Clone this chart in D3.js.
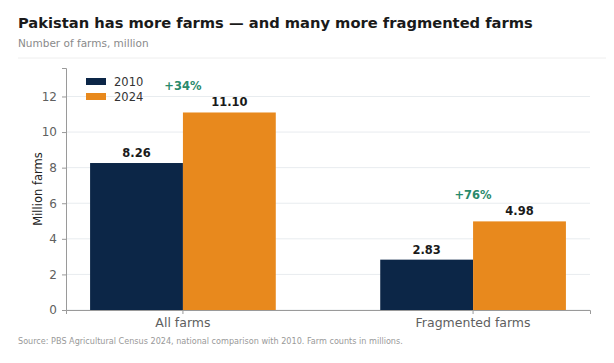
<!DOCTYPE html>
<html>
<head>
<meta charset="utf-8">
<script src="https://cdn.jsdelivr.net/npm/d3@7"></script>
<style>
  body { margin: 0; background: #fff; }
  svg { font-family: "DejaVu Sans", sans-serif; }
</style>
</head>
<body>
<svg id="chart" width="614" height="363"></svg>
<script>
// data
const categories = ["All farms", "Fragmented farms"];
const years = ["2010", "2024"];
const values2010 = [8.26, 2.83];
const values2024 = [11.10, 4.98];
const changeLabels = ["+34%", "+76%"];
const yTicks = [0, 2, 4, 6, 8, 10, 12];

const colors = {"2010": "#0c2647", "2024": "#e8891d"};

const svg = d3.select("#chart");
const margin = {top: 68, right: 24, bottom: 53, left: 66};
const width = 614 - margin.left - margin.right,
      height = 363 - margin.top - margin.bottom;

// title + subtitle
svg.append("text")
    .attr("x", 18).attr("y", 28)
    .style("font-size", "14.7px").style("font-weight", "bold").style("fill", "#1a1a1a")
    .text("Pakistan has more farms \u2014 and many more fragmented farms");
svg.append("text")
    .attr("x", 18).attr("y", 47)
    .style("font-size", "10.5px").style("fill", "#8a8a8a")
    .text("Number of farms, million");
svg.append("line")
    .attr("x1", 18).attr("x2", 606).attr("y1", 58).attr("y2", 58)
    .style("stroke", "#eeeeee").style("stroke-width", 1);

const g = svg.append("g").attr("transform", "translate(" + margin.left + "," + margin.top + ")");

// scales
const x = d3.scaleBand().domain(categories).range([0, width]).paddingInner(0.36).paddingOuter(0.083);
const xSub = d3.scaleBand().domain(years).range([0, x.bandwidth()]);
const y = d3.scaleLinear().domain([0, 13.6]).range([height, 0]);

// gridlines
g.selectAll(".grid").data(yTicks).enter().append("line")
    .attr("x1", 0).attr("x2", width)
    .attr("y1", d => y(d)).attr("y2", d => y(d))
    .style("stroke", "#e8ecef").style("stroke-width", 1);

// y axis
const yAxis = g.append("g")
    .call(d3.axisLeft(y).tickValues(yTicks).tickSize(4).tickPadding(5));
yAxis.select(".domain").style("stroke", "#9a9a9a");
yAxis.selectAll(".tick line").style("stroke", "#9a9a9a");
yAxis.selectAll("text").style("font-size", "12px").style("fill", "#606060").style("font-family", "DejaVu Sans, sans-serif");

// bars
const rows = categories.map((c, i) => ({cat: c, vals: [
    {year: "2010", v: values2010[i]}, {year: "2024", v: values2024[i]}]}));

const groups = g.selectAll(".grp").data(rows).enter().append("g")
    .attr("transform", d => "translate(" + x(d.cat) + ",0)");

groups.selectAll("rect").data(d => d.vals).enter().append("rect")
    .attr("x", d => xSub(d.year))
    .attr("y", d => y(d.v))
    .attr("width", xSub.bandwidth())
    .attr("height", d => height - y(d.v))
    .style("fill", d => colors[d.year]);

groups.selectAll(".val").data(d => d.vals).enter().append("text")
    .attr("x", d => xSub(d.year) + xSub.bandwidth() / 2)
    .attr("y", d => y(d.v) - 6)
    .attr("text-anchor", "middle")
    .style("font-size", "11.5px").style("font-weight", "bold").style("fill", "#1a1a1a")
    .text(d => d.v.toFixed(2));

// change labels
groups.append("text")
    .attr("x", x.bandwidth() / 2)
    .attr("y", (d, i) => y(values2024[i]) - 22)
    .attr("text-anchor", "middle")
    .style("font-size", "11.5px").style("font-weight", "bold").style("fill", "#2a8a6c")
    .text((d, i) => changeLabels[i]);

// x axis
const xAxis = g.append("g")
    .attr("transform", "translate(0," + height + ")")
    .call(d3.axisBottom(x).tickSize(4).tickPadding(4));
xAxis.select(".domain").style("stroke", "#9a9a9a");
xAxis.selectAll(".tick line").style("stroke", "#9a9a9a");
xAxis.selectAll("text").style("font-size", "12.5px").style("fill", "#606060").style("font-family", "DejaVu Sans, sans-serif");

// y label
g.append("text")
    .attr("transform", "translate(-24," + (height / 2) + ") rotate(-90)")
    .attr("text-anchor", "middle")
    .style("font-size", "11.5px").style("fill", "#222")
    .text("Million farms");

// legend
const legend = g.selectAll(".leg").data(years).enter().append("g")
    .attr("transform", (d, i) => "translate(20," + (10 + i * 15) + ")");
legend.append("rect").attr("width", 20).attr("height", 7).style("fill", d => colors[d]);
legend.append("text").attr("x", 28).attr("y", 8)
    .style("font-size", "11.5px").style("fill", "#333").text(d => d);

// source
svg.append("text")
    .attr("x", 18).attr("y", 344)
    .style("font-size", "8.1px").style("fill", "#999")
    .text("Source: PBS Agricultural Census 2024, national comparison with 2010. Farm counts in millions.");
</script>
</body>
</html>
